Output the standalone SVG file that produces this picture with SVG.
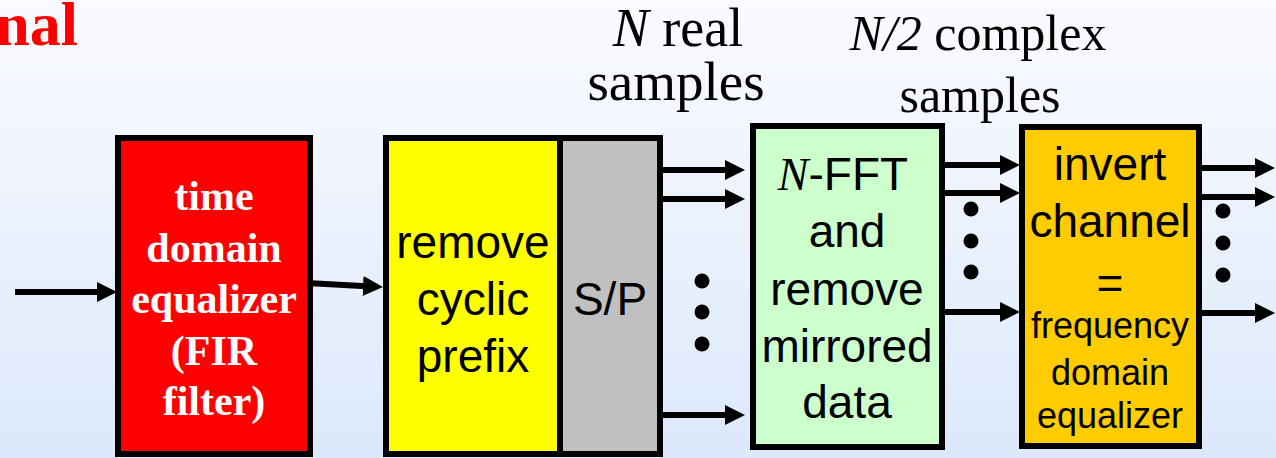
<svg xmlns="http://www.w3.org/2000/svg" width="1276" height="458" viewBox="0 0 1276 458">
  <defs>
    <linearGradient id="bg" x1="0" y1="0" x2="0" y2="1">
      <stop offset="0" stop-color="#fafbff"/>
      <stop offset="1" stop-color="#dce8fb"/>
    </linearGradient>
    <marker id="ah" markerUnits="userSpaceOnUse" markerWidth="20" markerHeight="20" refX="8" refY="10" orient="auto">
      <path d="M0,0 L20,10 L0,20 Z" fill="#000"/>
    </marker>
    <style>
      .box { stroke: #000; stroke-width: 6; }
      .sans { font-family: "Liberation Sans", Arial, sans-serif; fill: #000; text-anchor: middle; }
      .serif { font-family: "Liberation Serif", "Times New Roman", serif; fill: #000; text-anchor: middle; }
      .wire { stroke: #000; stroke-width: 6; fill: none; marker-end: url(#ah); }
      .dot { fill: #000; }
    </style>
  </defs>
  <rect x="0" y="0" width="1276" height="458" fill="url(#bg)"/>

  <text x="78" y="45" font-family="Liberation Serif, serif" font-weight="bold" font-size="62" fill="#ff0000" text-anchor="end">nal</text>

  <g id="label-real">
    <text class="serif" x="678" y="46" font-size="54"><tspan font-style="italic">N</tspan> real</text>
    <text class="serif" x="676" y="100" font-size="55">samples</text>
  </g>
  <g id="label-complex">
    <text class="serif" x="978" y="50" font-size="50"><tspan font-style="italic">N/2</tspan> complex</text>
    <text class="serif" x="980" y="112" font-size="50">samples</text>
  </g>

  <g id="teq">
    <rect class="box" x="118" y="138" width="192" height="316" fill="#ff0000"/>
    <g font-family="Liberation Serif, serif" font-weight="bold" font-size="42" fill="#fff" text-anchor="middle">
      <text x="214" y="210">time</text>
      <text x="214" y="262">domain</text>
      <text x="214" y="313">equalizer</text>
      <text x="214" y="365">(FIR</text>
      <text x="214" y="415">filter)</text>
    </g>
  </g>

  <g id="remove-cp">
    <rect class="box" x="386" y="138" width="174" height="316" fill="#ffff00"/>
    <text class="sans" x="473" y="258" font-size="46">remove</text>
    <text class="sans" x="473" y="315" font-size="46">cyclic</text>
    <text class="sans" x="473" y="372" font-size="46">prefix</text>
  </g>

  <g id="sp">
    <rect class="box" x="560" y="138" width="100" height="316" fill="#c0c0c0"/>
    <text class="sans" x="610" y="315" font-size="46">S/P</text>
  </g>

  <g id="fft">
    <rect class="box" x="753" y="126" width="189" height="321" fill="#ccffcc"/>
    <text class="sans" x="843" y="190" font-size="46"><tspan font-family="Liberation Serif, serif" font-style="italic">N</tspan>-FFT</text>
    <text class="sans" x="847" y="247" font-size="46">and</text>
    <text class="sans" x="847" y="305" font-size="46">remove</text>
    <text class="sans" x="847" y="362" font-size="46">mirrored</text>
    <text class="sans" x="847" y="418" font-size="46">data</text>
  </g>

  <g id="feq">
    <rect class="box" x="1022" y="127" width="177" height="319" fill="#ffcc00"/>
    <text class="sans" x="1110" y="180" font-size="46">invert</text>
    <text class="sans" x="1110" y="237" font-size="46">channel</text>
    <text class="sans" x="1110" y="299" font-size="46">=</text>
    <text class="sans" x="1110" y="338" font-size="36">frequency</text>
    <text class="sans" x="1110" y="385" font-size="36">domain</text>
    <text class="sans" x="1110" y="428" font-size="36">equalizer</text>
  </g>

  <g id="connectors">
    <line class="wire" x1="15" y1="292" x2="105" y2="292"/>
    <line class="wire" x1="307" y1="283" x2="371" y2="286.4"/>
    <line class="wire" x1="663" y1="170" x2="733" y2="170"/>
    <line class="wire" x1="663" y1="199" x2="733" y2="199"/>
    <line class="wire" x1="663" y1="415" x2="733" y2="415"/>
    <line class="wire" x1="945" y1="165" x2="1008" y2="165"/>
    <line class="wire" x1="945" y1="193" x2="1008" y2="193"/>
    <line class="wire" x1="945" y1="312" x2="1008" y2="312"/>
    <line class="wire" x1="1202" y1="168" x2="1263" y2="168"/>
    <line class="wire" x1="1202" y1="197" x2="1263" y2="197"/>
    <line class="wire" x1="1202" y1="313" x2="1263" y2="313"/>
    <circle class="dot" cx="702" cy="281" r="7.5"/>
    <circle class="dot" cx="702" cy="312" r="7.5"/>
    <circle class="dot" cx="702" cy="344" r="7.5"/>
    <circle class="dot" cx="971" cy="209" r="7.5"/>
    <circle class="dot" cx="971" cy="241" r="7.5"/>
    <circle class="dot" cx="971" cy="272" r="7.5"/>
    <circle class="dot" cx="1223" cy="211" r="7.5"/>
    <circle class="dot" cx="1223" cy="243" r="7.5"/>
    <circle class="dot" cx="1223" cy="275" r="7.5"/>
  </g>
</svg>
